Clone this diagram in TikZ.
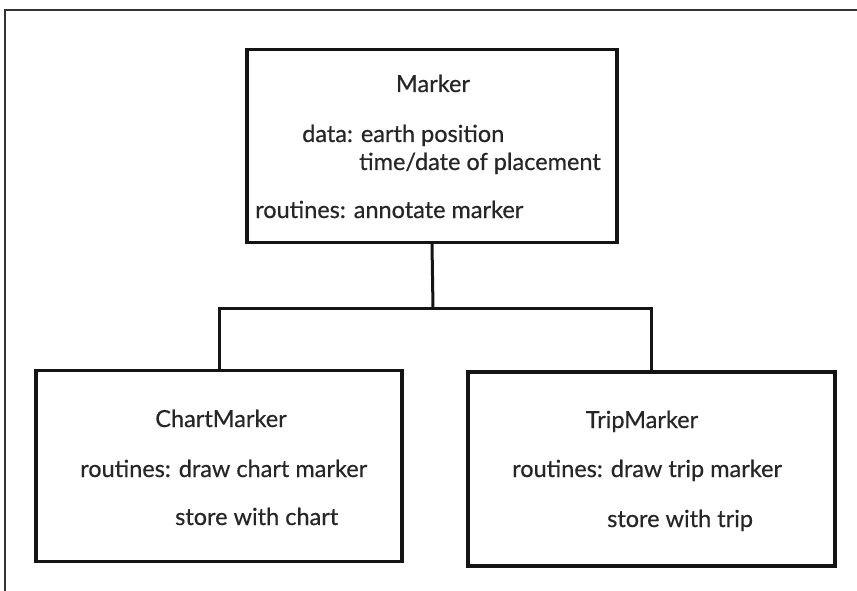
\documentclass[tikz,border=0pt]{standalone}
\usepackage{fontspec}
\setmainfont{Lato}[FakeBold=0.5]
\begin{document}
\begin{tikzpicture}[x=1pt,y=-1pt,
  classbox/.style={draw=black!92,line width=3.4pt,rectangle,inner sep=0pt},
  frameline/.style={draw=black!80,line width=2pt},
  link/.style={draw=black!92,line width=3pt},
  txt/.style={inner sep=0pt,font=\fontsize{23.5}{28}\selectfont,text=black!85},
  lbl/.style={txt,anchor=base west},
  ttl/.style={txt,anchor=base}]
\useasboundingbox (0,0) rectangle (857,591);
\fill[white] (0,0) rectangle (857,591);
\draw[frameline] (5,591) -- (5,10) -- (857,10);
% boxes
\node[classbox,minimum width=370pt,minimum height=193pt] (marker) at (432,146) {};
\node[classbox,minimum width=366pt,minimum height=191pt] (chart) at (219,466) {};
\node[classbox,minimum width=367pt,minimum height=194pt] (trip) at (651.5,469) {};
% texts
\node[ttl] (mt) at (433,92) {Marker};
\node[lbl] (md1) at (302,142) {data: earth position};
\node[lbl] (md2) at (359,170) {time/date of placement};
\node[lbl] (mr) at (255,218) {routines: annotate marker};
\node[ttl] (ct) at (221,427) {ChartMarker};
\node[lbl] (cr1) at (80,477) {routines: draw chart marker};
\node[lbl] (cr2) at (175,525) {store with chart};
\node[ttl] (tt) at (642,428) {TripMarker};
\node[lbl] (tr1) at (512,477) {routines: draw trip marker};
\node[lbl] (tr2) at (607,527) {store with trip};
% connectors
\coordinate (junction) at (433,308);
\draw[link] (marker.south) -- (junction);
\draw[link] (chart.north) |- (junction) -| (trip.north);
\end{tikzpicture}
\end{document}
